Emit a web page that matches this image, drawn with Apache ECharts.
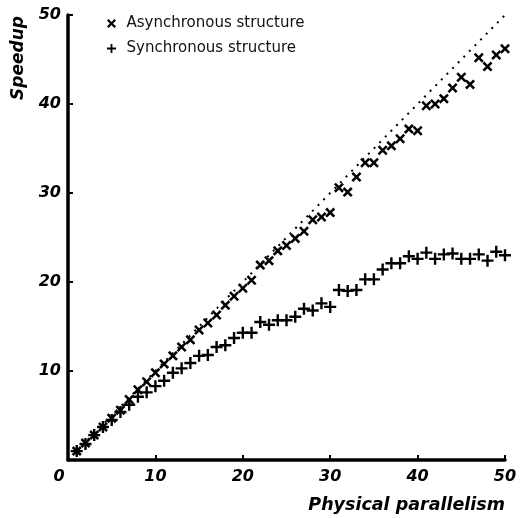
<!DOCTYPE html>
<html>
<head>
<meta charset="utf-8">
<title>Speedup vs physical parallelism</title>
<script src="https://cdn.jsdelivr.net/npm/echarts@6/dist/echarts.min.js"></script>
<style>
  html, body { margin: 0; padding: 0; background: #fff; }
  #chart { width: 523px; height: 518px; }
</style>
</head>
<body>
<div id="chart"></div>
<script>
// Number of physical processors
const processors = [1,2,3,4,5,6,7,8,9,10,11,12,13,14,15,16,17,18,19,20,
  21,22,23,24,25,26,27,28,29,30,31,32,33,34,35,36,37,38,39,40,
  41,42,43,44,45,46,47,48,49,50];

// Measured speedup, asynchronous structure
const asyncSpeedup = [1.0,1.9,2.8,3.7,4.7,5.6,6.8,7.9,8.8,9.8,
  10.8,11.7,12.7,13.5,14.6,15.4,16.3,17.4,18.4,19.3,
  20.2,21.9,22.4,23.5,24.1,24.9,25.7,27.0,27.3,27.8,
  30.6,30.1,31.8,33.4,33.4,34.8,35.3,36.1,37.2,37.0,
  39.8,40.0,40.6,41.8,43.0,42.2,45.2,44.2,45.5,46.2];

// Measured speedup, synchronous structure
const syncSpeedup = [1.0,1.8,2.8,3.7,4.5,5.4,6.2,7.1,7.6,8.3,
  8.9,9.8,10.3,10.9,11.7,11.8,12.7,12.9,13.7,14.3,
  14.3,15.5,15.2,15.7,15.7,16.1,17.0,16.8,17.6,17.2,
  19.1,19.0,19.1,20.3,20.3,21.4,22.1,22.1,22.9,22.6,
  23.3,22.6,23.1,23.2,22.6,22.6,23.1,22.4,23.4,23.0];

// Ideal linear speedup reference
const idealLine = [[1, 1], [50, 50]];

const axisTicks = [0, 10, 20, 30, 40, 50];

const seriesNames = ['Asynchronous structure', 'Synchronous structure'];

const PLUS = 'path://M4,0H6V4H10V6H6V10H4V6H0V4H4Z';
const CROSS = 'path://M0,1.8L1.8,0L5,3.2L8.2,0L10,1.8L6.8,5L10,8.2L8.2,10L5,6.8L1.8,10L0,8.2L3.2,5Z';

const ink = '#000';
const tickFont = 'DejaVu Sans';

const chart = echarts.init(document.getElementById('chart'), null, { renderer: 'canvas' });

chart.setOption({
  backgroundColor: '#fff',
  animation: false,
  grid: { left: 68, right: 18, top: 15, bottom: 58, containLabel: false },
  legend: {
    left: 102, top: 11, orient: 'vertical',
    itemWidth: 20, itemHeight: 9, itemGap: 10,
    symbolKeepAspect: true,
    textStyle: { fontFamily: 'DejaVu Sans', fontSize: 15, color: '#111' },
    data: [
      { name: seriesNames[0], icon: CROSS },
      { name: seriesNames[1], icon: PLUS }
    ]
  },
  xAxis: {
    type: 'value', min: axisTicks[0], max: axisTicks[axisTicks.length - 1], interval: 10,
    splitLine: { show: false },
    axisLine: { lineStyle: { color: ink, width: 3.5 } },
    axisTick: { inside: true, length: 5, lineStyle: { color: ink, width: 2 } },
    axisLabel: {
      margin: 9, color: ink, fontFamily: tickFont, fontSize: 16,
      fontWeight: 'bold', fontStyle: 'italic',
      formatter: v => v === 0 ? '{z|0}' : String(v),
      rich: { z: { fontFamily: tickFont, fontSize: 16, fontWeight: 'bold', fontStyle: 'italic', color: ink, padding: [0, 18, 0, 0] } }
    }
  },
  yAxis: {
    type: 'value', min: axisTicks[0], max: axisTicks[axisTicks.length - 1], interval: 10,
    splitLine: { show: false },
    axisLine: { lineStyle: { color: ink, width: 3.5 } },
    axisTick: { inside: true, length: 5, lineStyle: { color: ink, width: 2 } },
    axisLabel: {
      margin: 7, color: ink, fontFamily: tickFont, fontSize: 16,
      fontWeight: 'bold', fontStyle: 'italic',
      formatter: v => v === 0 ? '' : String(v)
    }
  },
  graphic: [
    {
      type: 'text', x: 19, y: 100, rotation: Math.PI / 2,
      style: {
        text: 'Speedup', fill: ink, align: 'left', verticalAlign: 'middle',
        font: 'italic bold 17px "DejaVu Sans"'
      }
    },
    {
      type: 'text', x: 505, y: 505,
      style: {
        text: 'Physical parallelism', fill: ink, align: 'right', verticalAlign: 'middle',
        font: 'italic bold 17.5px "DejaVu Sans"'
      }
    }
  ],
  series: [
    {
      name: 'ideal', type: 'line', data: idealLine, symbol: 'none', silent: true,
      lineStyle: { color: ink, width: 2, type: [2, 6] }, z: 1
    },
    {
      name: seriesNames[0], type: 'scatter',
      data: processors.map((p, i) => [p, asyncSpeedup[i]]),
      symbol: CROSS, symbolSize: 10,
      itemStyle: { color: ink, opacity: 1 }, z: 3
    },
    {
      name: seriesNames[1], type: 'scatter',
      data: processors.map((p, i) => [p, syncSpeedup[i]]),
      symbol: PLUS, symbolSize: 12,
      itemStyle: { color: ink, opacity: 1 }, z: 3
    }
  ]
});
</script>
</body>
</html>
